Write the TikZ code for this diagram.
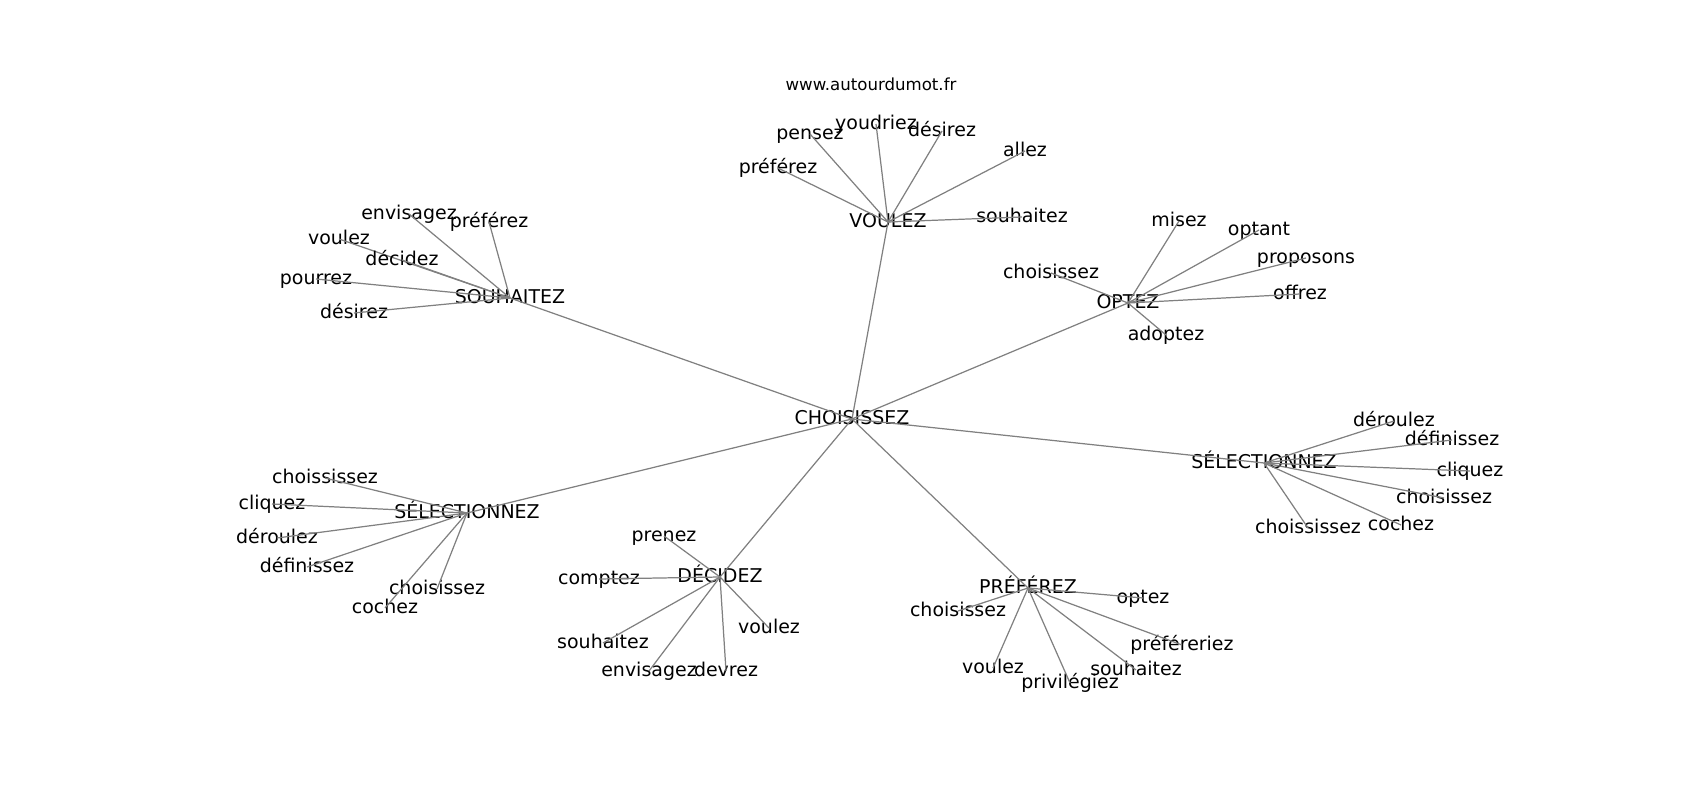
\documentclass[tikz,border=0pt]{standalone}
\usepackage{fontspec}
\setmainfont{DejaVu Sans}
\begin{document}
\begin{tikzpicture}[x=0.02cm,y=-0.02cm,
    word/.style={font=\fontsize{10.8}{13}\selectfont, inner sep=0pt, text height=0.62em, text depth=0pt},
    link/.style={draw=gray, line width=0.7pt}]
  \useasboundingbox (0,0) rectangle (1700,800);

  \node[font=\fontsize{9.45}{11}\selectfont] (site) at (871,84) {www.autourdumot.fr};

  % centre and hubs
  \node[word] (root) at (852,419) {CHOISISSEZ};
  \foreach \nm/\px/\py/\lbl in {vou/888/222/VOULEZ, sou/510/298/SOUHAITEZ,
      opt/1128/303/OPTEZ, selr/1264/463/SÉLECTIONNEZ, sell/467/513/SÉLECTIONNEZ,
      dec/720/577/DÉCIDEZ, pre/1028/588/PRÉFÉREZ}{
    \node[word] (\nm) at (\px,\py) {\lbl};
    \draw[link] (root.center) -- (\nm.center);
  }

  % leaves of VOULEZ
  \foreach \lbl/\px/\py [count=\i] in {pensez/810/134, youdriez/876/124, désirez/942/131,
      allez/1025/151, préférez/778/168, souhaitez/1022/217}{
    \node[word] (vou\i) at (\px,\py) {\lbl};
    \draw[link] (vou.center) -- (vou\i.center);
  }

  % leaves of SOUHAITEZ
  \foreach \lbl/\px/\py [count=\i] in {envisagez/409/214, préférez/489/222, voulez/339/239,
      décidez/402/260, pourrez/316/279, désirez/354/313}{
    \node[word] (sou\i) at (\px,\py) {\lbl};
    \draw[link] (sou.center) -- (sou\i.center);
  }

  % leaves of OPTEZ
  \foreach \lbl/\px/\py [count=\i] in {choisissez/1051/273, misez/1179/221, optant/1259/230,
      proposons/1306/258, offrez/1300/294, adoptez/1166/335}{
    \node[word] (opt\i) at (\px,\py) {\lbl};
    \draw[link] (opt.center) -- (opt\i.center);
  }

  % leaves of SÉLECTIONNEZ (right)
  \foreach \lbl/\px/\py [count=\i] in {déroulez/1394/421, définissez/1452/440, cliquez/1470/471,
      choisissez/1444/498, cochez/1401/525, choississez/1308/528}{
    \node[word] (selr\i) at (\px,\py) {\lbl};
    \draw[link] (selr.center) -- (selr\i.center);
  }

  % leaves of SÉLECTIONNEZ (left)
  \foreach \lbl/\px/\py [count=\i] in {choississez/325/478, cliquez/272/504, déroulez/277/538,
      définissez/307/567, choisissez/437/589, cochez/385/608}{
    \node[word] (sell\i) at (\px,\py) {\lbl};
    \draw[link] (sell.center) -- (sell\i.center);
  }

  % leaves of DÉCIDEZ
  \foreach \lbl/\px/\py [count=\i] in {prenez/664/536, comptez/599/579, souhaitez/603/643,
      envisagez/649/671, devrez/726/671, voulez/769/628}{
    \node[word] (dec\i) at (\px,\py) {\lbl};
    \draw[link] (dec.center) -- (dec\i.center);
  }

  % leaves of PRÉFÉREZ
  \foreach \lbl/\px/\py [count=\i] in {choisissez/958/611, optez/1143/598, préféreriez/1182/645,
      voulez/993/668, privilégiez/1070/683, souhaitez/1136/670}{
    \node[word] (pre\i) at (\px,\py) {\lbl};
    \draw[link] (pre.center) -- (pre\i.center);
  }
\end{tikzpicture}
\end{document}
